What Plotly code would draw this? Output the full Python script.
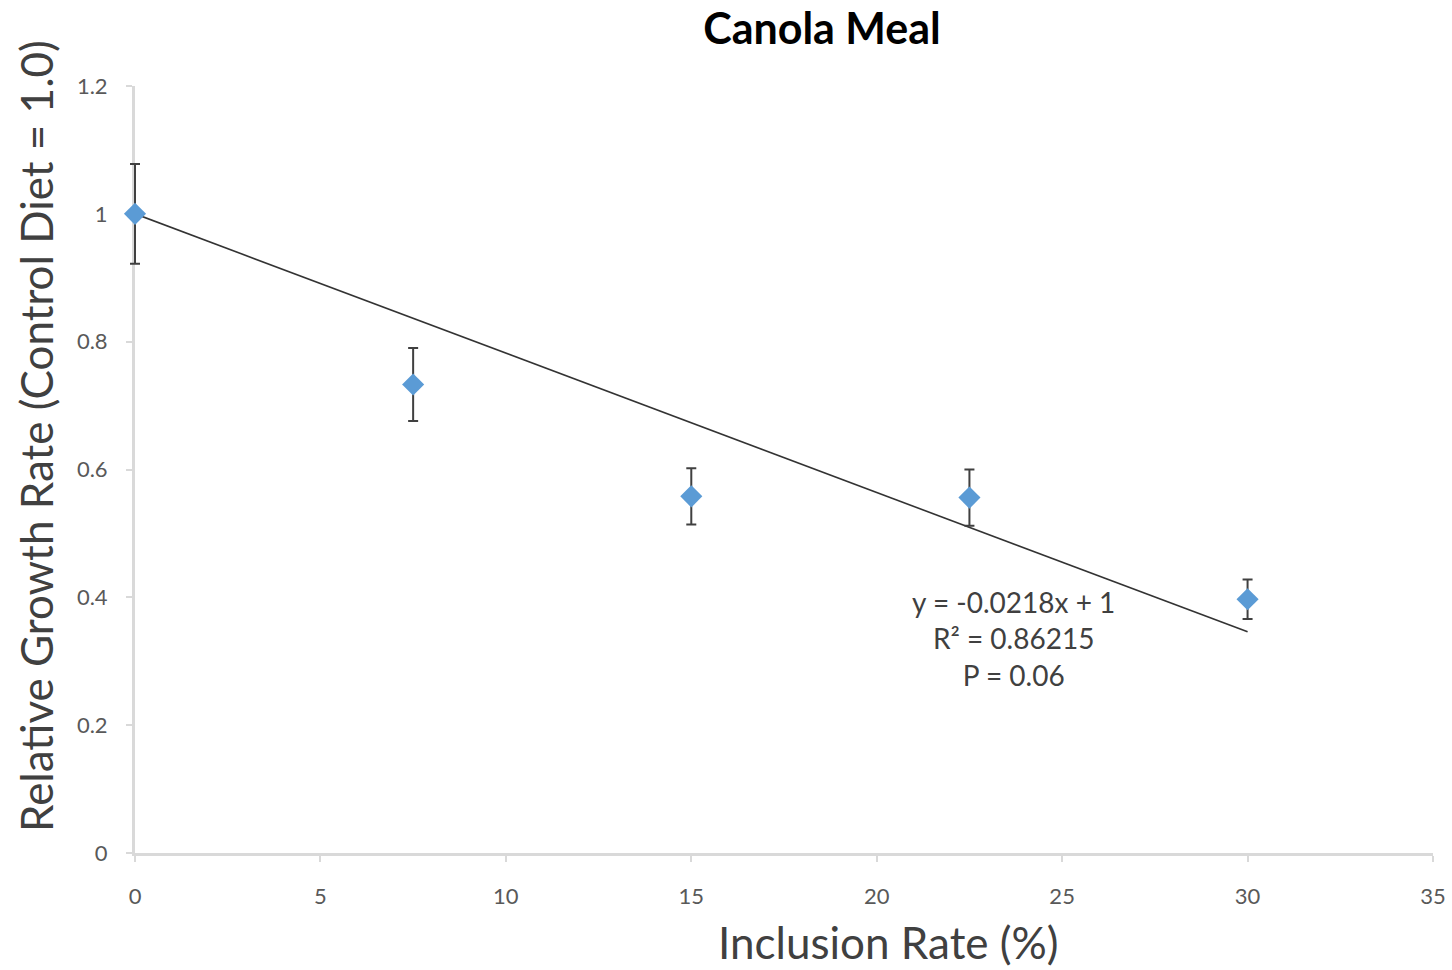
import plotly.graph_objects as go

# Data
inclusion = [0, 7.5, 15, 22.5, 30]
growth = [1.0, 0.733, 0.558, 0.556, 0.397]
err = [0.078, 0.057, 0.044, 0.044, 0.031]
slope = -0.0218
intercept = 1.0
trend_x = [0, 30]
trend_y = [slope * x + intercept for x in trend_x]
x_ticks = [0, 5, 10, 15, 20, 25, 30, 35]
y_ticks = [0, 0.2, 0.4, 0.6, 0.8, 1.0, 1.2]
y_labels = ["0", "0.2", "0.4", "0.6", "0.8", "1", "1.2"]
X_MAX = 35
Y_MAX = 1.2

FONT = "Lato, Open Sans, sans-serif"

W, H = 1452, 970
# target plot area on screen: x 135..1433, y 86..853
PL, PR, PT, PB = 135, 1433, 86, 853
PW, PH = PR - PL, PB - PT
ML = 110  # figure left margin; extra room so the x=0 error bar is not clipped
FW = W - ML - (W - PR)  # width of full paper area
dom0 = (PL - ML) / FW
x2_min = -X_MAX * (PL - ML) / PW


def px(sx):
    return (sx - ML) / FW


def py(sy):
    return (PB - sy) / PH


fig = go.Figure()
fig.add_trace(go.Scatter(
    x=trend_x, y=trend_y, mode="lines", xaxis="x", yaxis="y",
    line=dict(color="#333333", width=1.6), showlegend=False, hoverinfo="skip"))
fig.add_trace(go.Scatter(
    x=inclusion, y=growth, mode="markers", cliponaxis=False, xaxis="x2", yaxis="y",
    marker=dict(symbol="diamond", size=17, color="#5b9bd5"),
    error_y=dict(type="data", array=err, visible=True, color="#404040", thickness=2, width=5),
    showlegend=False))

fig.add_annotation(
    x=px(1013), y=py(638), xref="paper", yref="paper",
    xanchor="center", yanchor="middle",
    text="y = -0.0218x + 1<br>R² = 0.86215<br>P = 0.06",
    showarrow=False, align="center",
    font=dict(family=FONT, size=28, color="#404040"))

fig.add_annotation(
    x=px(36), y=py(436), xref="paper", yref="paper",
    xanchor="center", yanchor="middle", textangle=-90,
    text="Relative Growth Rate (Control Diet = 1.0)", showarrow=False,
    font=dict(family=FONT, size=44, color="#404040"))

fig.add_annotation(
    x=px(888), y=py(942), xref="paper", yref="paper",
    xanchor="center", yanchor="middle",
    text="Inclusion Rate (%)", showarrow=False,
    font=dict(family=FONT, size=44, color="#404040"))

axis_common = dict(showgrid=False, zeroline=False, showline=True, linecolor="#d9d9d9",
                   linewidth=3, ticks="outside", ticklen=6, tickcolor="#d9d9d9",
                   tickwidth=2, tickfont=dict(family=FONT, size=22, color="#595959"))

fig.update_layout(
    width=W, height=H,
    margin=dict(l=ML, r=W - PR, t=PT, b=H - PB, autoexpand=False),
    paper_bgcolor="white", plot_bgcolor="rgba(0,0,0,0)",
    title=dict(text="<b>Canola Meal</b>", x=822 / W, xanchor="center",
               y=1 - 29 / H, yanchor="middle",
               font=dict(family=FONT, size=43, color="black")),
    xaxis=dict(range=[0, X_MAX], domain=[dom0, 1], tickvals=x_ticks,
               ticklabelstandoff=16, anchor="y", **axis_common),
    xaxis2=dict(range=[x2_min, X_MAX], domain=[0, 1], visible=False, anchor="y"),
    yaxis=dict(range=[0, Y_MAX], tickvals=y_ticks, ticktext=y_labels,
               ticklabelstandoff=14, anchor="x", **axis_common),
)

fig.write_html("out.html", config={"displayModeBar": False},
               post_script="document.body.style.margin='0px';")
